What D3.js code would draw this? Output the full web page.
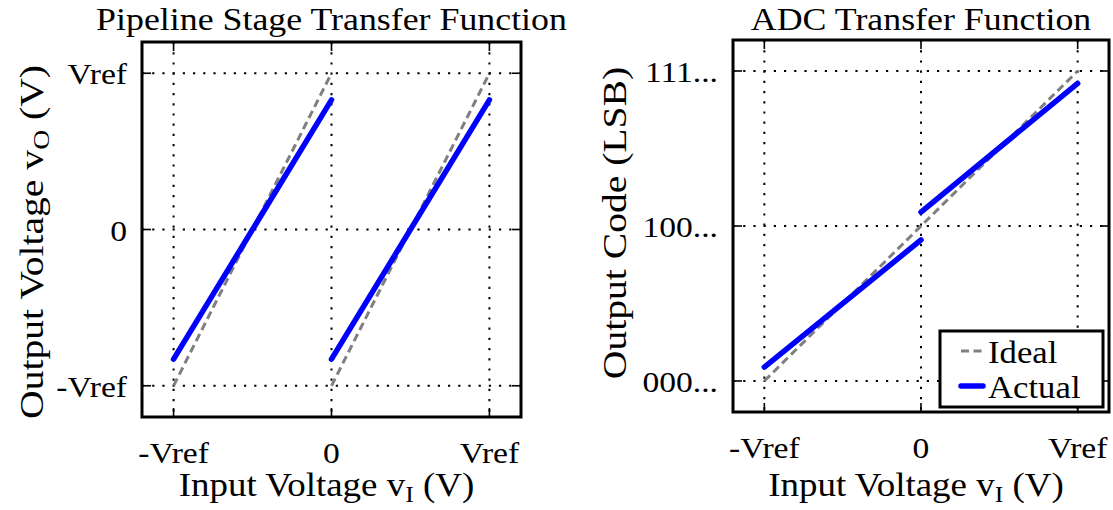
<!DOCTYPE html>
<html>
<head>
<meta charset="utf-8">
<script src="https://cdn.jsdelivr.net/npm/d3@7"></script>
<style>
  html, body { margin: 0; padding: 0; background: #fff; }
  svg { display: block; }
  text { font-family: "Liberation Serif", "DejaVu Serif", serif; fill: #000; }
</style>
</head>
<body>
<div id="chart"></div>
<script>
// ---- data ----
const xTicks = [-1, 0, 1];
const xTickLabels = ['-Vref', '0', 'Vref'];
const yTicks = [-1, 0, 1];
const stageYTickLabels = ['-Vref', '0', 'Vref'];
const adcYTickLabels = ['000...', '100...', '111...'];

// pipeline stage (residue) transfer, two segments each
const stageIdeal = [
  [[-1, -1], [0, 1]],
  [[0, -1], [1, 1]]
];
const stageActual = [
  [[-1, -0.83], [0, 0.83]],
  [[0, -0.83], [1, 0.83]]
];

// overall ADC transfer
const adcIdeal = [
  [[-1, -1], [1, 1]]
];
const adcActual = [
  [[-1, -0.91], [0, -0.09]],
  [[0, 0.09], [1, 0.92]]
];

const legendItems = ['Ideal', 'Actual'];

// ---- layout ----
const W = 1113, H = 510;
const domain = [-1.2, 1.2];
// Liberation Serif is narrower than the Computer Modern look of the original,
// so text gets a small horizontal stretch
const SX = 1.12;

const svg = d3.select('#chart').append('svg')
  .attr('width', W)
  .attr('height', H);

function placeText(sel, x, y, rot, sx = SX) {
  return sel.attr('transform', `translate(${x},${y})${rot ? ` rotate(${rot})` : ''} scale(${sx},1)`);
}

function drawPanel(opts) {
  const { left, right, top, bottom } = opts.box;
  const x = d3.scaleLinear().domain(domain).range([left, right]);
  const y = d3.scaleLinear().domain(domain).range([bottom, top]);
  const g = svg.append('g');

  // dotted grid
  const grid = g.append('g')
    .attr('stroke', '#000')
    .attr('stroke-width', 2)
    .attr('stroke-dasharray', '2.2,8');
  grid.selectAll('.gx').data(xTicks).join('line')
    .attr('x1', d => x(d)).attr('x2', d => x(d))
    .attr('y1', top).attr('y2', bottom);
  grid.selectAll('.gy').data(yTicks).join('line')
    .attr('class', 'gy')
    .attr('x1', left).attr('x2', right)
    .attr('y1', d => y(d)).attr('y2', d => y(d));

  const line = d3.line().x(d => x(d[0])).y(d => y(d[1]));

  g.selectAll('.ideal').data(opts.ideal).join('path')
    .attr('class', 'ideal')
    .attr('d', line)
    .attr('fill', 'none')
    .attr('stroke', '#808080')
    .attr('stroke-width', 3)
    .attr('stroke-dasharray', '8,4.5');

  g.selectAll('.actual').data(opts.actual).join('path')
    .attr('class', 'actual')
    .attr('d', line)
    .attr('fill', 'none')
    .attr('stroke', '#0000ff')
    .attr('stroke-width', 5.5)
    .attr('stroke-linecap', 'round');

  // inward ticks on all four sides
  const tl = 9;
  const ticks = g.append('g').attr('stroke', '#000').attr('stroke-width', 1.6);
  xTicks.forEach(t => {
    ticks.append('line').attr('x1', x(t)).attr('x2', x(t)).attr('y1', bottom).attr('y2', bottom - tl);
    ticks.append('line').attr('x1', x(t)).attr('x2', x(t)).attr('y1', top).attr('y2', top + tl);
  });
  yTicks.forEach(t => {
    ticks.append('line').attr('x1', left).attr('x2', left + tl).attr('y1', y(t)).attr('y2', y(t));
    ticks.append('line').attr('x1', right).attr('x2', right - tl).attr('y1', y(t)).attr('y2', y(t));
  });

  g.append('rect')
    .attr('x', left).attr('y', top)
    .attr('width', right - left).attr('height', bottom - top)
    .attr('fill', 'none')
    .attr('stroke', '#000')
    .attr('stroke-width', 3);

  // tick labels
  g.selectAll('.xtl').data(xTicks).join('text')
    .attr('class', 'xtl')
    .each(function(d) { placeText(d3.select(this), x(d), bottom + 46); })
    .attr('text-anchor', 'middle')
    .style('font-size', '30px')
    .text((d, i) => xTickLabels[i]);

  g.selectAll('.ytl').data(yTicks).join('text')
    .attr('class', 'ytl')
    .each(function(d) { placeText(d3.select(this), left - 15, y(d) + 11); })
    .attr('text-anchor', 'end')
    .style('font-size', '30px')
    .text((d, i) => opts.yTickLabels[i]);

  // title
  placeText(g.append('text'), (left + right) / 2, 30)
    .attr('text-anchor', 'middle')
    .style('font-size', '32px')
    .text(opts.title);

  // x label with subscript
  const xl = placeText(g.append('text'), (left + right) / 2 - 5, 496)
    .attr('text-anchor', 'middle')
    .style('font-size', '33px');
  xl.append('tspan').text('Input Voltage v');
  xl.append('tspan').attr('dy', 6).style('font-size', '23px').text('I');
  xl.append('tspan').attr('dy', -6).text(' (V)');

  // y label
  const yl = placeText(g.append('text'), opts.yLabelX, opts.yLabelY, -90, 1.2)
    .attr('text-anchor', 'middle')
    .style('font-size', '33px');
  opts.yLabel.forEach(p => {
    const ts = yl.append('tspan').text(p.text);
    if (p.sub) ts.attr('dy', 6).style('font-size', '23px');
    if (p.after) ts.attr('dy', -6);
  });

  return { x, y, g };
}

drawPanel({
  box: { left: 142, right: 521, top: 42, bottom: 417 },
  ideal: stageIdeal,
  actual: stageActual,
  yTickLabels: stageYTickLabels,
  title: 'Pipeline Stage Transfer Function',
  yLabelX: 43,
  yLabelY: 242,
  yLabel: [{ text: 'Output Voltage v' }, { text: 'O', sub: true }, { text: ' (V)', after: true }]
});

const adc = drawPanel({
  box: { left: 733, right: 1109, top: 40, bottom: 412 },
  ideal: adcIdeal,
  actual: adcActual,
  yTickLabels: adcYTickLabels,
  title: 'ADC Transfer Function',
  yLabelX: 626,
  yLabelY: 223,
  yLabel: [{ text: 'Output Code (LSB)' }]
});

// legend in lower right of ADC panel
const leg = adc.g.append('g');
leg.append('rect')
  .attr('x', 940).attr('y', 331)
  .attr('width', 163).attr('height', 76)
  .attr('fill', '#fff')
  .attr('stroke', '#000')
  .attr('stroke-width', 3);

const legRows = leg.selectAll('.row').data(legendItems).join('g')
  .attr('transform', (d, i) => `translate(0,${351 + i * 35})`);
legRows.append('line')
  .attr('x1', 961).attr('x2', 983)
  .attr('stroke', (d, i) => i === 0 ? '#808080' : '#0000ff')
  .attr('stroke-width', (d, i) => i === 0 ? 3 : 5.5)
  .attr('stroke-dasharray', (d, i) => i === 0 ? '8,4.5' : null)
  .attr('stroke-linecap', (d, i) => i === 0 ? 'butt' : 'round');
legRows.append('text')
  .each(function() { placeText(d3.select(this), 988, 12); })
  .style('font-size', '31px')
  .text(d => d);
</script>
</body>
</html>
